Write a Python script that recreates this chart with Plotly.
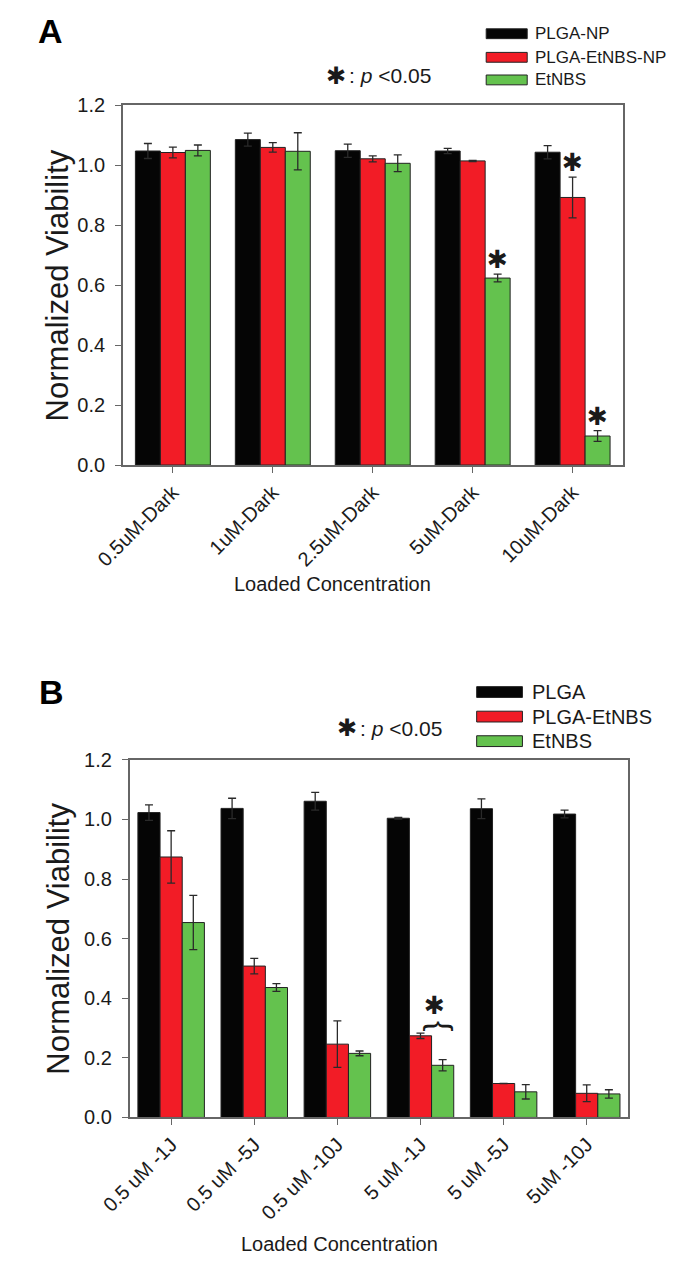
import plotly.graph_objects as go

# ---------------- data ----------------
cats_a = ["0.5uM-Dark", "1uM-Dark", "2.5uM-Dark", "5uM-Dark", "10uM-Dark"]
a_plga_np = [1.048, 1.086, 1.049, 1.048, 1.044]
a_plga_np_err = [0.025, 0.022, 0.022, 0.009, 0.022]
a_plga_etnbs_np = [1.043, 1.060, 1.022, 1.015, 0.893]
a_plga_etnbs_np_err = [0.018, 0.016, 0.010, 0.002, 0.068]
a_etnbs = [1.050, 1.047, 1.007, 0.624, 0.097]
a_etnbs_err = [0.018, 0.062, 0.028, 0.013, 0.018]
a_names = ["PLGA-NP", "PLGA-EtNBS-NP", "EtNBS"]

cats_b = ["0.5 uM -1J", "0.5 uM -5J", "0.5 uM -10J", "5 uM -1J", "5 uM -5J", "5uM -10J"]
b_plga = [1.023, 1.037, 1.061, 1.004, 1.036, 1.018]
b_plga_err = [0.026, 0.034, 0.030, 0.003, 0.033, 0.013]
b_plga_etnbs = [0.874, 0.508, 0.246, 0.274, 0.114, 0.081]
b_plga_etnbs_err = [0.088, 0.026, 0.078, 0.009, 0.0, 0.028]
b_etnbs = [0.654, 0.436, 0.215, 0.175, 0.086, 0.079]
b_etnbs_err = [0.091, 0.013, 0.008, 0.019, 0.024, 0.014]
b_names = ["PLGA", "PLGA-EtNBS", "EtNBS"]

y_ticks = [0.0, 0.2, 0.4, 0.6, 0.8, 1.0, 1.2]

# significance marks in panel A: (category index, series index)
sig_a = [(3, 2), (4, 1), (4, 2)]

# ---------------- styles ----------------
PAGE_MARGIN = 8                      # default <body> margin of the html page
W, H = 675 - PAGE_MARGIN, 1267 - PAGE_MARGIN
COLORS = ["#050505", "#f21c26", "#64c24e"]
FONT = "Liberation Sans, Arial, sans-serif"
AXC = "#666666"


def px(x):
    return (x - PAGE_MARGIN) / W


def py(y):
    return 1 - (y - PAGE_MARGIN) / H


fig = go.Figure()

panels = [
    dict(xa="x", ya="y", cats=cats_a,
         series=[(a_plga_np, a_plga_np_err), (a_plga_etnbs_np, a_plga_etnbs_np_err), (a_etnbs, a_etnbs_err)],
         names=a_names, width=0.25),
    dict(xa="x2", ya="y2", cats=cats_b,
         series=[(b_plga, b_plga_err), (b_plga_etnbs, b_plga_etnbs_err), (b_etnbs, b_etnbs_err)],
         names=b_names, width=0.2667),
]

for p in panels:
    w = p["width"]
    for i, ((vals, errs), name) in enumerate(zip(p["series"], p["names"])):
        fig.add_trace(go.Bar(
            x=p["cats"], y=vals, name=name, xaxis=p["xa"], yaxis=p["ya"],
            width=w, offset=-1.5 * w + i * w,
            marker=dict(color=COLORS[i], line=dict(color="#222222", width=1)),
            error_y=dict(type="data", array=errs, color="#2a2a2a", thickness=1.3, width=4),
            showlegend=False,
        ))

axis_common = dict(showline=True, mirror=True, linecolor=AXC, linewidth=1.5,
                   ticks="outside", ticklen=6, tickcolor=AXC, tickwidth=1.2,
                   showgrid=False, zeroline=False)

fig.update_layout(
    width=W, height=H, margin=dict(l=0, r=0, t=0, b=0),
    paper_bgcolor="white", plot_bgcolor="white", barmode="overlay",
    font=dict(family=FONT, color="#1a1a1a"),
    xaxis=dict(domain=[px(96), px(620)], anchor="y", type="category",
               range=[-0.5, len(cats_a) - 0.5], tickangle=-45,
               tickfont=dict(size=20), **axis_common),
    yaxis=dict(domain=[py(462), py(96)], anchor="x", range=[0, 1.2],
               tickvals=y_ticks, tickformat=".1f", tickfont=dict(size=20),
               ticklabelstandoff=6, **axis_common),
    xaxis2=dict(domain=[px(103), px(626)], anchor="y2", type="category",
                range=[-0.5, len(cats_b) - 0.5], tickangle=-45,
                tickfont=dict(size=20), **axis_common),
    yaxis2=dict(domain=[py(1126), py(762)], anchor="x2", range=[0, 1.2],
                tickvals=y_ticks, tickformat=".1f", tickfont=dict(size=20),
                ticklabelstandoff=6, **axis_common),
)

ann = []
shapes = []

# panel letters
ann.append(dict(text="<b>A</b>", x=px(5), y=py(20), xref="paper", yref="paper",
                xanchor="left", yanchor="middle", showarrow=False, font=dict(size=34, color="black")))
ann.append(dict(text="<b>B</b>", x=px(6), y=py(693), xref="paper", yref="paper",
                xanchor="left", yanchor="middle", showarrow=False, font=dict(size=34, color="black")))

# axis titles
for (xc, yc) in [(27, 279), (29, 944)]:
    ann.append(dict(text="Normalized Viability", x=px(xc), y=py(yc), xref="paper", yref="paper",
                    textangle=-90, showarrow=False, xanchor="center", yanchor="middle",
                    font=dict(size=31, color="#1a1a1a")))
for (xc, yc) in [(316, 583), (323, 1255)]:
    ann.append(dict(text="Loaded Concentration", x=px(xc), y=py(yc), xref="paper", yref="paper",
                    showarrow=False, xanchor="center", yanchor="middle",
                    font=dict(size=20, color="#1a1a1a")))

# "* : p <0.05" keys
for (sx, sy) in [(319, 66), (331, 730)]:
    ann.append(dict(text="\u2731", x=px(sx), y=py(sy), xref="paper", yref="paper",
                    showarrow=False, xanchor="center", yanchor="middle",
                    font=dict(size=24, color="#1a1a1a", family="DejaVu Sans")))
    ann.append(dict(text=": <i>p</i> <0.05", x=px(sx + 12), y=py(sy), xref="paper", yref="paper",
                    showarrow=False, xanchor="left", yanchor="middle",
                    font=dict(size=21, color="#1a1a1a")))

# legends (manual, wide swatches)
legend_specs = [
    (a_names, 477, 520, [23, 47, 70], 526, 17, 10),
    (b_names, 467, 515, [693, 718, 743], 523, 20, 11),
]
for names, x0, x1, ys, tx, fs, hh in legend_specs:
    for i, (nm, yy) in enumerate(zip(names, ys)):
        shapes.append(dict(type="rect", xref="paper", yref="paper",
                           x0=px(x0), x1=px(x1), y0=py(yy + hh / 2), y1=py(yy - hh / 2),
                           fillcolor=COLORS[i], line=dict(color="#222222", width=1)))
        ann.append(dict(text=nm, x=px(tx), y=py(yy), xref="paper", yref="paper",
                        showarrow=False, xanchor="left", yanchor="middle",
                        font=dict(size=fs, color="#1a1a1a")))

# significance asterisks in panel A
a_series = [(a_plga_np, a_plga_np_err), (a_plga_etnbs_np, a_plga_etnbs_np_err), (a_etnbs, a_etnbs_err)]
wa = 0.25
for ci, si in sig_a:
    v, e = a_series[si]
    ann.append(dict(text="\u2731", x=ci - wa + si * wa, y=v[ci] + e[ci], xref="x", yref="y",
                    showarrow=False, xanchor="center", yanchor="bottom", yshift=-2,
                    font=dict(size=25, color="#1a1a1a", family="DejaVu Sans")))

# significance brace + asterisk in panel B (between PLGA-EtNBS and EtNBS at 5 uM -1J)
wb = 0.2667
ci = 3
top = b_plga_etnbs[ci] + b_plga_etnbs_err[ci]
ann.append(dict(text="}", x=ci + wb / 2 + 0.04, y=top, xref="x2", yref="y2",
                showarrow=False, xanchor="center", yanchor="bottom", textangle=-90, yshift=0,
                font=dict(size=32, color="#1a1a1a")))
ann.append(dict(text="\u2731", x=ci + wb / 2 + 0.04, y=top, xref="x2", yref="y2",
                showarrow=False, xanchor="center", yanchor="bottom", yshift=11,
                font=dict(size=25, color="#1a1a1a", family="DejaVu Sans")))

fig.update_layout(annotations=ann, shapes=shapes)
fig.write_html("out.html")
